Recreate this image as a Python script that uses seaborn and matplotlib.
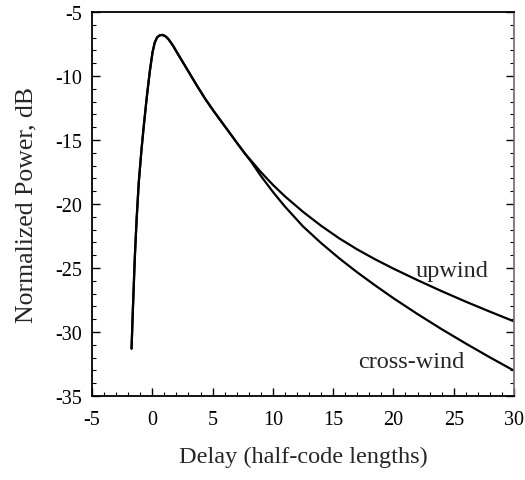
import matplotlib
matplotlib.use("Agg")
import matplotlib.pyplot as plt
import seaborn as sns
import pandas as pd
import numpy as np
from matplotlib.ticker import MultipleLocator

# ---- data ----
shared_x = [-1.72, -1.60, -1.45, -1.30, -1.12, -0.90, -0.70, -0.45, -0.20, 0.02,
            0.20, 0.40, 0.62, 0.85, 1.10, 1.34, 1.70, 2.17, 3.00, 3.70, 4.40,
            5.10, 5.80, 6.50, 7.15, 7.70]
shared_y = [-31.3, -28.0, -24.2, -21.2, -18.3, -15.8, -13.85, -11.6, -9.6, -8.15,
            -7.4, -6.98, -6.82, -6.79, -6.9, -7.12, -7.6, -8.35, -9.65, -10.75, -11.8,
            -12.75, -13.65, -14.55, -15.39, -16.08]

tail_x = [8.2, 9.0, 10.0, 11.0, 12.5, 14.0, 15.5, 17.0, 18.5, 20.0, 22.0, 24.0, 26.0, 28.0, 30.0]
upwind_y = [-16.62, -17.5, -18.5, -19.4, -20.61, -21.7, -22.68, -23.55, -24.33, -25.05,
            -25.95, -26.81, -27.63, -28.41, -29.17]
crosswind_y = [-16.7, -17.8, -19.05, -20.2, -21.75, -23.05, -24.24, -25.34, -26.37, -27.36,
               -28.6, -29.78, -30.9, -31.98, -33.02]

series_names = ["upwind", "cross-wind"]
x_label = "Delay (half-code lengths)"
y_label = "Normalized Power, dB"

# ---- build long-form table ----
rows = []
for name, tail in zip(series_names, [upwind_y, crosswind_y]):
    for xv, yv in zip(shared_x + tail_x, shared_y + tail):
        rows.append({"delay": xv, "power": yv, "series": name})
df = pd.DataFrame(rows)

sns.set_theme(style="ticks")
plt.rcParams["font.family"] = ["Liberation Serif", "DejaVu Serif"]
plt.rcParams["axes.unicode_minus"] = False

fig = plt.figure(figsize=(5.25, 4.81), dpi=100)
ax = fig.add_axes([92 / 525, 1 - 397 / 481, 422 / 525, 384 / 481])

sns.lineplot(data=df, x="delay", y="power", hue="series", units="series",
             estimator=None, sort=False, palette=["black", "black"],
             linewidth=1.6, legend=False, ax=ax)

ax.set_xlim(-5, 30)
ax.set_ylim(-35, -5)
ax.xaxis.set_major_locator(MultipleLocator(5))
ax.xaxis.set_minor_locator(MultipleLocator(1))
ax.yaxis.set_major_locator(MultipleLocator(5))
ax.yaxis.set_minor_locator(MultipleLocator(1))

ax.tick_params(which="both", direction="in", right=True, top=False, colors="black")
ax.tick_params(which="major", length=6, width=1.0, labelsize=14.5)
ax.tick_params(axis="x", which="major", pad=10)
ax.tick_params(axis="y", which="major", pad=7)
ax.tick_params(which="minor", length=3, width=0.8)
for s in ax.spines.values():
    s.set_linewidth(1.3)
    s.set_color("black")
ax.spines["right"].set_color("#777777")

ax.set_xlabel(x_label, fontsize=17.5)
ax.set_ylabel(y_label, fontsize=18.5)
ax.xaxis.set_label_coords(0.5, -0.13)
ax.yaxis.set_label_coords(-0.13, 0.5)

ax.text(24.85, -25.2, "upwind", fontsize=17.5, ha="center", va="center")
ax.text(21.45, -32.3, "cross-wind", fontsize=17.5, ha="center", va="center")

fig.savefig("out.png", dpi=100)
